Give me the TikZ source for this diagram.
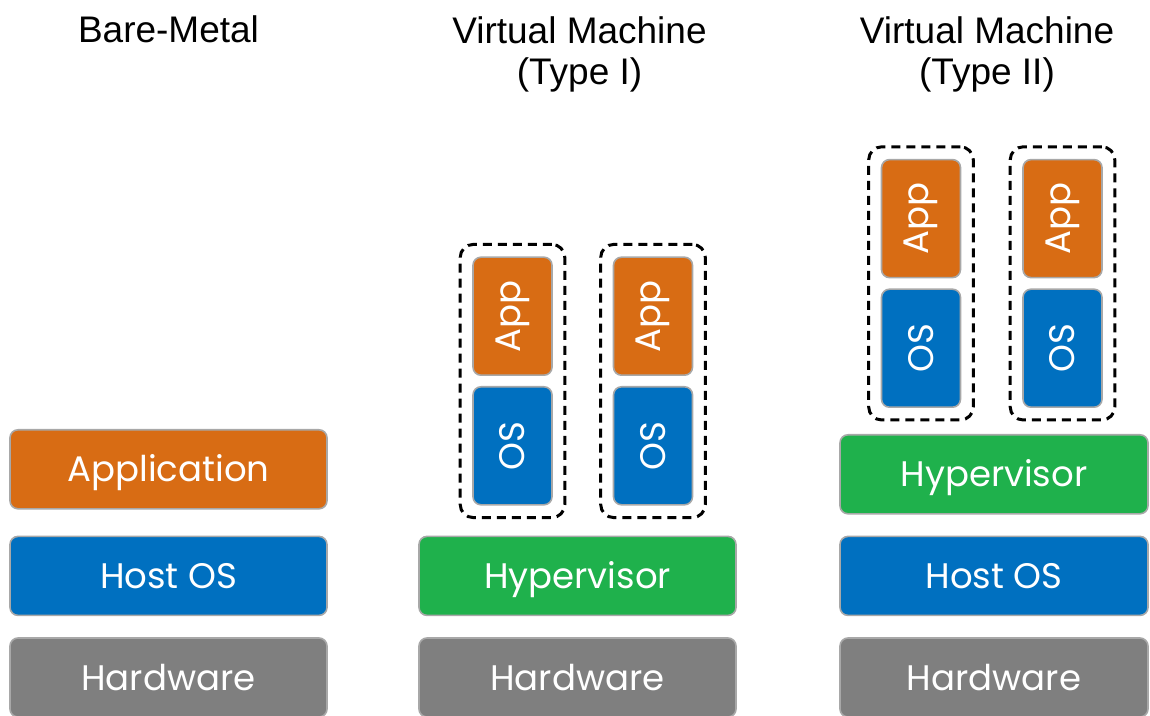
\documentclass[tikz,border=0pt]{standalone}
\usepackage{fontspec}
\setmainfont{Liberation Sans}
\newfontfamily\layerfont{Poppins}
\usetikzlibrary{positioning, fit}

\definecolor{apporange}{HTML}{D86C14}
\definecolor{osblue}{HTML}{0070C0}
\definecolor{hypgreen}{HTML}{1FB14C}
\definecolor{hwgray}{HTML}{7F7F7F}
\definecolor{edgegray}{HTML}{A8A8A8}

\begin{document}
\begin{tikzpicture}[
    x=1pt, y=1pt,
    node distance=21pt,
    block/.style={
      draw=edgegray,
      line width=1.6pt,
      rounded corners=8pt,
      text=white,
      font=\layerfont\fontsize{35.5}{40}\selectfont,
      inner sep=0pt
    },
    layer/.style={
      block,
      minimum width=317pt,
      minimum height=79pt,
      text height=25pt,
      text depth=-4pt
    },
    hardware/.style={layer, fill=hwgray},
    hostos/.style={layer, fill=osblue},
    application/.style={layer, fill=apporange},
    hypervisor/.style={layer, fill=hypgreen},
    guest/.style={
      block,
      minimum width=79pt,
      minimum height=118pt
    },
    guestos/.style={guest, fill=osblue},
    guestapp/.style={guest, fill=apporange},
    vmframe/.style={
      draw=black,
      line width=3pt,
      dash pattern=on 9pt off 6pt,
      rounded corners=13pt,
      inner sep=12pt
    },
    heading/.style={
      font=\fontsize{37}{41}\selectfont,
      align=center,
      inner sep=0pt
    }
  ]

    \useasboundingbox (0,0) rectangle (1150,715);

    % Column titles
    \node[heading, anchor=base] (tbare) at (168.5,672) {Bare-Metal};
    \node[heading] (ttypeone) at (579.5,661) {Virtual Machine\\(Type I)};
    \node[heading] (ttypetwo) at (987,661) {Virtual Machine\\(Type II)};

    % Bare-metal stack
    \node[hardware] (hwbare) at (168.5,37.5) {Hardware};
    \node[hostos, above=of hwbare] (osbare) {Host OS};
    \node[application, above=26pt of osbare] (appbare) {Application};

    % Type I stack
    \node[hardware] (hwone) at (577.5,37.5) {Hardware};
    \node[hypervisor, above=of hwone] (hypone) {Hypervisor};
    \node[guestos, above=30pt of hypone, xshift=-65pt] (osonea) {\rotatebox{90}{OS}};
    \node[guestapp, above=10pt of osonea] (apponea) {\rotatebox{90}{App}};
    \node[guestos, above=30pt of hypone, xshift=75.5pt] (osoneb) {\rotatebox{90}{OS}};
    \node[guestapp, above=10pt of osoneb] (apponeb) {\rotatebox{90}{App}};
    \node[vmframe, fit=(osonea)(apponea)] (vmonea) {};
    \node[vmframe, fit=(osoneb)(apponeb)] (vmoneb) {};

    % Type II stack
    \node[hardware, minimum width=308pt] (hwtwo) at (994,37.5) {Hardware};
    \node[hostos, minimum width=308pt, above=of hwtwo] (hosttwo) {Host OS};
    \node[hypervisor, minimum width=308pt, above=of hosttwo] (hyptwo) {Hypervisor};
    \node[guestos, above=26pt of hyptwo, xshift=-73pt] (ostwoa) {\rotatebox{90}{OS}};
    \node[guestapp, above=10pt of ostwoa] (apptwoa) {\rotatebox{90}{App}};
    \node[guestos, above=26pt of hyptwo, xshift=68.5pt] (ostwob) {\rotatebox{90}{OS}};
    \node[guestapp, above=10pt of ostwob] (apptwob) {\rotatebox{90}{App}};
    \node[vmframe, fit=(ostwoa)(apptwoa)] (vmtwoa) {};
    \node[vmframe, fit=(ostwob)(apptwob)] (vmtwob) {};

  \end{tikzpicture}
\end{document}
